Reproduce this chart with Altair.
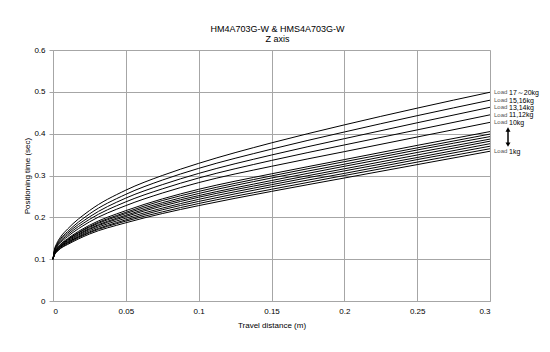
import altair as alt
import pandas as pd

# Travel distance sample points (m)
x_pts = [0, 0.001, 0.0025, 0.005, 0.01, 0.025, 0.05, 0.075, 0.1, 0.15, 0.2, 0.25, 0.3]

# Positioning time (sec) per load curve
load_names = ["17-20kg", "15,16kg", "13,14kg", "11,12kg", "10kg",
              "9kg", "8kg", "7kg", "6kg", "5kg", "4kg", "3kg", "2kg", "1kg"]
t_17_20 = [0.1, 0.123, 0.137, 0.152, 0.172, 0.216, 0.265, 0.300, 0.329, 0.378, 0.421, 0.461, 0.499]
t_15_16 = [0.1, 0.121, 0.134, 0.148, 0.166, 0.208, 0.255, 0.289, 0.317, 0.363, 0.404, 0.443, 0.480]
t_13_14 = [0.1, 0.120, 0.132, 0.145, 0.162, 0.201, 0.246, 0.278, 0.305, 0.349, 0.388, 0.426, 0.463]
t_11_12 = [0.1, 0.118, 0.130, 0.142, 0.158, 0.195, 0.237, 0.268, 0.294, 0.336, 0.373, 0.409, 0.445]
t_10 = [0.1, 0.117, 0.128, 0.139, 0.154, 0.189, 0.228, 0.258, 0.283, 0.322, 0.357, 0.392, 0.427]
t_9 = [0.1, 0.115, 0.125, 0.135, 0.149, 0.181, 0.216, 0.244, 0.267, 0.304, 0.338, 0.372, 0.405]
t_8 = [0.1, 0.114, 0.124, 0.134, 0.147, 0.178, 0.212, 0.240, 0.262, 0.299, 0.333, 0.366, 0.399]
t_7 = [0.1, 0.114, 0.123, 0.132, 0.146, 0.176, 0.209, 0.235, 0.257, 0.294, 0.327, 0.361, 0.393]
t_6 = [0.1, 0.113, 0.122, 0.131, 0.144, 0.173, 0.205, 0.231, 0.252, 0.288, 0.322, 0.355, 0.387]
t_5 = [0.1, 0.112, 0.121, 0.130, 0.142, 0.171, 0.202, 0.227, 0.248, 0.283, 0.316, 0.349, 0.382]
t_4 = [0.1, 0.112, 0.120, 0.129, 0.140, 0.168, 0.198, 0.222, 0.243, 0.278, 0.311, 0.343, 0.376]
t_3 = [0.1, 0.111, 0.119, 0.128, 0.139, 0.165, 0.194, 0.218, 0.238, 0.273, 0.305, 0.338, 0.370]
t_2 = [0.1, 0.111, 0.118, 0.126, 0.137, 0.163, 0.191, 0.213, 0.233, 0.267, 0.300, 0.332, 0.364]
t_1 = [0.1, 0.110, 0.117, 0.125, 0.135, 0.160, 0.187, 0.209, 0.228, 0.262, 0.294, 0.326, 0.358]
series = [t_17_20, t_15_16, t_13_14, t_11_12, t_10, t_9, t_8, t_7,
          t_6, t_5, t_4, t_3, t_2, t_1]

# Right-side labels
label_kg = ["17～20kg", "15,16kg", "13,14kg", "11,12kg", "10kg", "1kg"]
label_y = [0.499, 0.480, 0.463, 0.445, 0.427, 0.358]
label_x = [0.3] * len(label_kg)

x_ticks = [0, 0.05, 0.1, 0.15, 0.2, 0.25, 0.3]
y_ticks = [0, 0.1, 0.2, 0.3, 0.4, 0.5, 0.6]

rows = []
for name, vals in zip(load_names, series):
    for xv, tv in zip(x_pts, vals):
        rows.append({"load": name, "x": xv, "t": tv})
df = pd.DataFrame(rows)

lab = pd.DataFrame({"x": label_x, "y": label_y, "kg": label_kg})
arrow = pd.DataFrame({"x": [0.3], "y1": [0.408], "y2": [0.376]})
heads = pd.DataFrame({"x": [0.3, 0.3], "y": [0.410, 0.374],
                      "shape": ["triangle-up", "triangle-down"]})

FONT = "Liberation Sans"
GRID = "#a6a6a6"

xs = alt.Scale(domain=[0, 0.3], nice=False, zero=False)
ys = alt.Scale(domain=[0, 0.6], nice=False)

x_axis = alt.Axis(values=x_ticks, format="~g", title="Travel distance (m)",
                  grid=True, gridColor=GRID, domainColor=GRID, tickColor=GRID,
                  tickSize=0, labelPadding=6, labelFontSize=8, titleFontSize=8,
                  titleFontWeight="normal", titlePadding=6, labelFont=FONT,
                  titleFont=FONT, labelColor="#000", titleColor="#000")
y_axis = alt.Axis(values=y_ticks, format="~g", title="Positioning time (sec)",
                  grid=True, gridColor=GRID, domainColor=GRID, tickColor=GRID,
                  tickSize=4, labelPadding=4, labelFontSize=8, titleFontSize=8,
                  titleFontWeight="normal", titlePadding=2, labelFont=FONT,
                  titleFont=FONT, labelColor="#000", titleColor="#000")

lines = alt.Chart(df).mark_line(color="black", strokeWidth=1,
                                interpolate="monotone").encode(
    x=alt.X("x:Q", scale=xs, axis=x_axis),
    y=alt.Y("t:Q", scale=ys, axis=y_axis),
    detail="load:N",
)

load_txt = alt.Chart(lab).mark_text(align="left", baseline="middle", dx=4,
                                    fontSize=6, font=FONT, color="#555").encode(
    x=alt.X("x:Q", scale=xs), y=alt.Y("y:Q", scale=ys), text=alt.value("Load"))
kg_txt = alt.Chart(lab).mark_text(align="left", baseline="middle", dx=19, dy=0.5,
                                  fontSize=7, font=FONT, color="#000").encode(
    x=alt.X("x:Q", scale=xs), y=alt.Y("y:Q", scale=ys), text="kg:N")

arrow_rule = alt.Chart(arrow).mark_rule(color="black", strokeWidth=1.5,
                                        xOffset=18).encode(
    x=alt.X("x:Q", scale=xs), y=alt.Y("y1:Q", scale=ys), y2="y2:Q")
arrow_heads = alt.Chart(heads).mark_point(filled=True, color="black", size=25,
                                          opacity=1, xOffset=18).encode(
    x=alt.X("x:Q", scale=xs), y=alt.Y("y:Q", scale=ys),
    shape=alt.Shape("shape:N", scale=None))

chart = alt.layer(lines, load_txt, kg_txt, arrow_rule, arrow_heads).properties(
    width=437, height=251,
    title=alt.TitleParams(["HM4A703G-W & HMS4A703G-W", "Z axis"], fontSize=9,
                          font=FONT, fontWeight="normal", anchor="middle",
                          dx=6, offset=2, lineHeight=10, color="#000"),
    autosize=alt.AutoSizeParams(type="none"),
    padding={"left": 53, "top": 50, "right": 60, "bottom": 51},
).configure_view(stroke=None).configure(background="white")

chart.save("out.html", embed_options={"renderer": "svg", "actions": False})
